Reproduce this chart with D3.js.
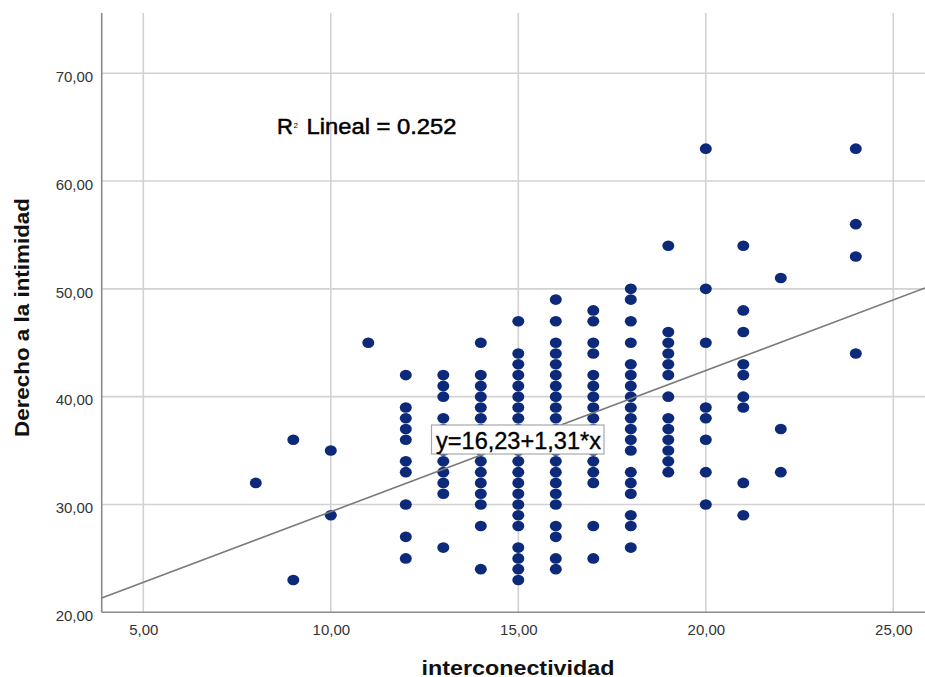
<!DOCTYPE html>
<html><head><meta charset="utf-8">
<script src="https://cdn.jsdelivr.net/npm/d3@7"></script>
<style>body{margin:0;background:#fff}svg{display:block;font-family:"Liberation Sans",Arial,sans-serif}</style>
</head><body>
<script>
// x value -> list of y values (Derecho a la intimidad)
const xValues = [8, 9, 10, 11, 12, 13, 14, 15, 16, 17, 18, 19, 20, 21, 22, 24];
const yByX = [
  [32],
  [36, 23],
  [35, 29],
  [45],
  [42, 39, 38, 37, 36, 34, 33, 30, 27, 25],
  [42, 41, 40, 38, 37, 36, 35, 34, 33, 32, 31, 26],
  [45, 42, 41, 40, 39, 38, 37, 36, 35, 34, 33, 32, 31, 30, 28, 24],
  [47, 44, 43, 42, 41, 40, 39, 38, 37, 36, 35, 34, 33, 32, 31, 30, 29, 28, 26, 25, 24, 23],
  [49, 47, 45, 44, 43, 42, 41, 40, 39, 38, 37, 36, 35, 34, 33, 32, 31, 30, 28, 27, 25, 24],
  [48, 47, 45, 44, 42, 41, 40, 39, 38, 37, 36, 35, 34, 33, 32, 28, 25],
  [50, 49, 47, 45, 43, 42, 41, 40, 39, 38, 37, 36, 35, 33, 32, 31, 29, 28, 26],
  [54, 46, 45, 44, 43, 42, 40, 38, 37, 36, 35, 34, 33],
  [63, 50, 45, 39, 38, 36, 33, 30],
  [54, 48, 46, 43, 42, 40, 39, 32, 29],
  [51, 37, 33],
  [63, 56, 53, 44]
];
const xTicks = [5, 10, 15, 20, 25];
const yTicks = [20, 30, 40, 50, 60, 70];
const intercept = 16.23, slope = 1.31;
const r2Text = "0.252";

const W = 925, H = 677;
const svg = d3.select("body").append("svg").attr("width", W).attr("height", H);

const x = d3.scaleLinear().domain([5, 25]).range([143.3, 893.3]);
const y = d3.scaleLinear().domain([20, 70]).range([612.3, 73.2]);
const xMin = x.invert(101.7), xMax = x.invert(925);
const yTop = 13;

const fmt = d => d.toFixed(2).replace(".", ",");

// grid
const g = svg.append("g");
g.selectAll(".vg").data(xTicks).join("line")
  .attr("x1", d => x(d)).attr("x2", d => x(d))
  .attr("y1", yTop).attr("y2", y(20))
  .attr("stroke", "#d2d2d2").attr("stroke-width", 1.6);
g.selectAll(".hg").data(yTicks.slice(1)).join("line")
  .attr("x1", 101.7).attr("x2", W)
  .attr("y1", d => y(d)).attr("y2", d => y(d))
  .attr("stroke", "#d2d2d2").attr("stroke-width", 1.6);

// axes via d3 axis
const xAxis = svg.append("g").attr("transform", `translate(0,${y(20)})`)
  .call(d3.axisBottom(x).tickValues(xTicks).tickFormat(fmt).tickSize(0).tickPadding(10));
xAxis.select(".domain").remove();
xAxis.selectAll("text").attr("font-size", 15).attr("fill", "#333")
  .attr("font-family", "Liberation Sans, Arial, sans-serif").attr("dy", "0.85em");

const yAxis = svg.append("g").attr("transform", `translate(101.7,0)`)
  .call(d3.axisLeft(y).tickValues(yTicks).tickFormat(fmt).tickSize(0).tickPadding(8.5));
yAxis.select(".domain").remove();
yAxis.selectAll("text").attr("font-size", 15).attr("fill", "#333")
  .attr("font-family", "Liberation Sans, Arial, sans-serif").attr("dy", "0.55em");

// axis lines
svg.append("line").attr("x1", 101.7).attr("x2", 101.7).attr("y1", yTop).attr("y2", y(20))
  .attr("stroke", "#8a8a8a").attr("stroke-width", 1.6);
svg.append("line").attr("x1", 101.7).attr("x2", W).attr("y1", y(20)).attr("y2", y(20))
  .attr("stroke", "#8a8a8a").attr("stroke-width", 1.6);

// points
const pts = [];
xValues.forEach((xv, i) => yByX[i].forEach(yv => pts.push([xv, yv])));
svg.append("g").selectAll("ellipse").data(pts).join("ellipse")
  .attr("cx", d => x(d[0])).attr("cy", d => y(d[1]))
  .attr("rx", 6).attr("ry", 5.3)
  .attr("fill", "#0c2a79");

// fit line
svg.append("line")
  .attr("x1", x(xMin)).attr("y1", y(intercept + slope * xMin))
  .attr("x2", x(xMax)).attr("y2", y(intercept + slope * xMax))
  .attr("stroke", "#7a7a7a").attr("stroke-width", 1.6);

// equation label
const eq = svg.append("g");
eq.append("rect").attr("x", 431.5).attr("y", 425).attr("width", 172.5).attr("height", 29)
  .attr("fill", "#fff").attr("stroke", "#a8a8a8").attr("stroke-width", 1.2);
eq.append("text").attr("x", 436).attr("y", 448.5)
  .attr("font-size", 23.5).attr("fill", "#000").attr("stroke", "#000").attr("stroke-width", 0.35)
  .attr("textLength", 165).attr("lengthAdjust", "spacingAndGlyphs")
  .text("y=16,23+1,31*x");

// R2 label
svg.append("text").attr("x", 277).attr("y", 134).attr("font-size", 22).attr("fill", "#000")
  .attr("stroke", "#000").attr("stroke-width", 0.5).text("R");
svg.append("text").attr("x", 293.5).attr("y", 128).attr("font-size", 8).attr("fill", "#000").text("2");
svg.append("text").attr("x", 306.5).attr("y", 134).attr("font-size", 22.5).attr("fill", "#000")
  .attr("stroke", "#000").attr("stroke-width", 0.5)
  .attr("textLength", 150).attr("lengthAdjust", "spacingAndGlyphs")
  .text("Lineal = " + r2Text);

// axis titles
svg.append("text").attr("x", 421.5).attr("y", 674.5)
  .attr("font-size", 20).attr("font-weight", "bold").attr("fill", "#111")
  .attr("textLength", 193).attr("lengthAdjust", "spacingAndGlyphs").text("interconectividad");
svg.append("text").attr("transform", "translate(29,437) rotate(-90)")
  .attr("font-size", 20.5).attr("font-weight", "bold").attr("fill", "#111")
  .attr("textLength", 239).attr("lengthAdjust", "spacingAndGlyphs").text("Derecho a la intimidad");
</script>
</body></html>
